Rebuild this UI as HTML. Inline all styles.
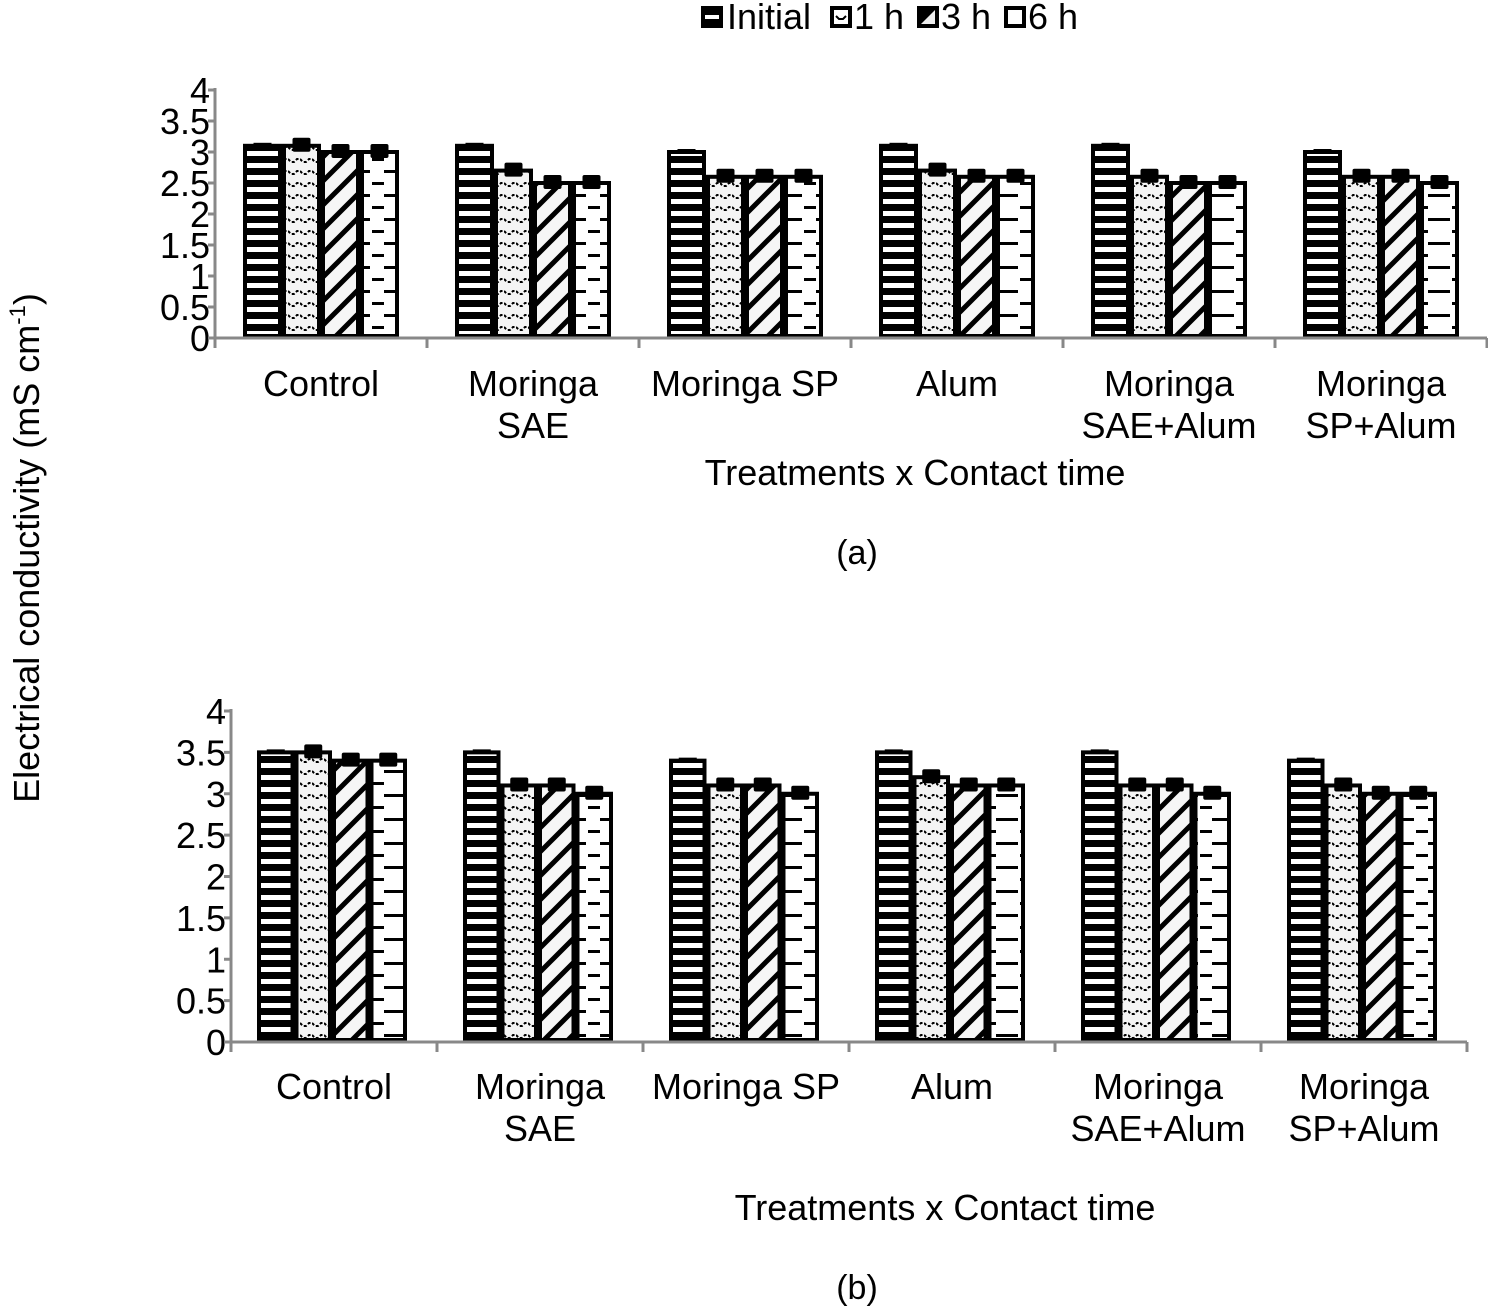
<!DOCTYPE html>
<html><head><meta charset="utf-8"><style>
html,body{margin:0;padding:0;background:#fff;width:1488px;height:1312px;overflow:hidden}
text{font-family:"Liberation Sans",Arial,sans-serif;fill:#000}
</style></head><body>
<svg id="chart" width="1488" height="1312" xmlns="http://www.w3.org/2000/svg">
<defs>
<pattern id="p0" width="10" height="12" patternUnits="userSpaceOnUse"><rect width="10" height="12" fill="#fff"/><rect y="0" width="10" height="7" fill="#000"/></pattern>
<pattern id="p1" width="12" height="12" patternUnits="userSpaceOnUse"><rect width="12" height="12" fill="#f4f4f4"/><path d="M0 3 L3 6 L6 6 L9 3 L12 3" stroke="#000" stroke-width="2" fill="none" stroke-dasharray="3 2"/></pattern>
<pattern id="p2" width="24" height="24" patternUnits="userSpaceOnUse"><rect width="24" height="24" fill="#f6f6f6"/><path d="M-6 30 L30 -6 M-6 6 L6 -6 M18 30 L30 18" stroke="#000" stroke-width="5"/></pattern>
<pattern id="p3" width="36" height="24" patternUnits="userSpaceOnUse"><rect width="36" height="24" fill="#fff"/><rect x="0" y="2" width="10" height="3" fill="#000"/><rect x="24" y="2" width="12" height="3" fill="#000"/><rect x="12" y="14" width="12" height="3" fill="#000"/></pattern>
</defs>
<g id="legend">
<g><rect x="701" y="6" width="22" height="22" fill="#000"/><rect x="705" y="15" width="14" height="4" fill="#fff"/><text x="727" y="29" font-size="36">Initial</text></g>
<g><rect x="830" y="6" width="22" height="22" fill="#000"/><rect x="834" y="10" width="14" height="14" fill="#fff"/><path d="M836 16 l3 3 l4 0 l3 -3" stroke="#000" stroke-width="2" fill="none"/><text x="854" y="29" font-size="36">1 h</text></g>
<g><rect x="917" y="6" width="22" height="22" fill="#000"/><path d="M921 24 L935 10 L935 24 Z" fill="#eee"/><text x="941" y="29" font-size="36">3 h</text></g>
<g><rect x="1004" y="6" width="22" height="22" fill="#000"/><rect x="1008" y="10" width="14" height="14" fill="#fff"/><text x="1028" y="29" font-size="36">6 h</text></g>
</g>
<text transform="translate(39,548) rotate(-90)" text-anchor="middle" font-size="36">Electrical conductivity (mS cm<tspan dy="-14" font-size="22">-1</tspan><tspan dy="14">)</tspan></text>
<g id="panelA"></g>
<g id="panelB"></g>
</svg>
<script>
const categories = [["Control"],["Moringa","SAE"],["Moringa SP"],["Alum"],["Moringa","SAE+Alum"],["Moringa","SP+Alum"]];
const seriesNames = ["Initial","1 h","3 h","6 h"];
const yTicks = [0,0.5,1,1.5,2,2.5,3,3.5,4];
const yTickLabels = ["0","0.5","1","1.5","2","2.5","3","3.5","4"];
const panelAInitial = [3.1,3.1,3.0,3.1,3.1,3.0];
const panelA1h = [3.1,2.7,2.6,2.7,2.6,2.6];
const panelA3h = [3.0,2.5,2.6,2.6,2.5,2.6];
const panelA6h = [3.0,2.5,2.6,2.6,2.5,2.5];
const panelBInitial = [3.5,3.5,3.4,3.5,3.5,3.4];
const panelB1h = [3.5,3.1,3.1,3.2,3.1,3.1];
const panelB3h = [3.4,3.1,3.1,3.1,3.1,3.0];
const panelB6h = [3.4,3.0,3.0,3.1,3.0,3.0];
const NS="http://www.w3.org/2000/svg";
function mk(tag,attrs,parent){const e=document.createElementNS(NS,tag);for(const k in attrs)e.setAttribute(k,attrs[k]);parent.appendChild(e);return e;}
function drawPanel(g,cfg,series,tag){
  const y=v=>cfg.y0-(v/4)*(cfg.y0-cfg.y4);
  const x=i=>cfg.x0+i*cfg.cw;
  const ya=mk('line',{x1:cfg.x0,y1:cfg.y4-2,x2:cfg.x0,y2:cfg.y0,stroke:'#888','stroke-width':3},g);
  
  
  yTicks.forEach((t,i)=>{
    mk('line',{x1:cfg.x0-7,y1:y(t),x2:cfg.x0,y2:y(t),stroke:'#888','stroke-width':3},g);
    const tl=mk('text',{x:cfg.x0-5,y:y(t)+13,'text-anchor':'end','font-size':36},g);
    tl.textContent=yTickLabels[i];
    
    
  });
  categories.forEach((c,ci)=>{
    series.forEach((s,si)=>{
      const bx=x(ci)+cfg.off+si*cfg.bw, by=y(s[ci]);
      const r=mk('rect',{x:bx+2,y:by,width:cfg.bw-4,height:cfg.y0-by-2,fill:'url(#p'+si+')',stroke:'#000','stroke-width':4},g);
      
      
      if(si>0){const e=mk('rect',{x:bx+cfg.bw/2-9,y:by-8,width:18,height:14,fill:'#000',rx:2},g);
      
      }
      else {mk('rect',{x:bx+cfg.bw/2-9,y:by-3,width:18,height:4,fill:'#000'},g);}
    });
    c.forEach((line,li)=>{
      const t=mk('text',{x:x(ci)+cfg.cw/2,y:cfg.labY+li*42,'text-anchor':'middle','font-size':36},g);
      t.textContent=line;
      
      
    });
  });
  const xa=mk('line',{x1:cfg.x0-7,y1:cfg.y0,x2:x(6),y2:cfg.y0,stroke:'#888','stroke-width':3},g);
  
  
  for(let i=0;i<=6;i++)mk('line',{x1:x(i),y1:cfg.y0,x2:x(i),y2:cfg.y0+10,stroke:'#888','stroke-width':3},g);
  const xt=mk('text',{x:cfg.xtX,y:cfg.xtY,'text-anchor':'middle','font-size':36},g);
  xt.textContent='Treatments x Contact time';
  
  
  const pl=mk('text',{x:857,y:cfg.plY,'text-anchor':'middle','font-size':34},g);
  pl.textContent=tag==='a'?'(a)':'(b)';
  
  
}
drawPanel(document.getElementById('panelA'),{x0:215,y0:338,y4:90,cw:212,off:28,bw:39,labY:396,xtX:915,xtY:485,plY:564},[panelAInitial,panelA1h,panelA3h,panelA6h],'a');
drawPanel(document.getElementById('panelB'),{x0:231,y0:1042,y4:711,cw:206,off:26,bw:37.5,labY:1099,xtX:945,xtY:1220,plY:1299},[panelBInitial,panelB1h,panelB3h,panelB6h],'b');
</script>
</body></html>
